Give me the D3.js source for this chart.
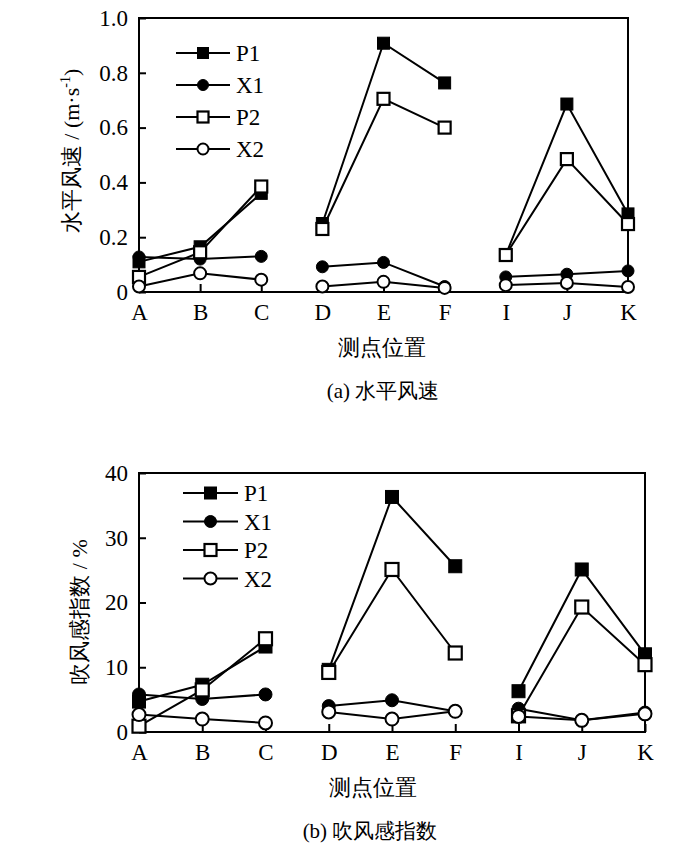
<!DOCTYPE html>
<html><head><meta charset="utf-8">
<script src="https://cdn.jsdelivr.net/npm/d3@7"></script>
</head>
<body style="margin:0;background:#fff">
<svg id="c" width="700" height="852" font-family="Liberation Serif"></svg>
<script>
const categories = ["A","B","C","D","E","F","I","J","K"];
const groups = [[0,1,2],[3,4,5],[6,7,8]];
const seriesNames = ["P1","X1","P2","X2"];
const seriesSymbols = ["square-filled","circle-filled","square-open","circle-open"];

// (a) horizontal wind speed, m/s
const speedP1 = [0.11,0.165,0.36,0.25,0.908,0.763,0.135,0.686,0.285];
const speedX1 = [0.128,0.12,0.13,0.092,0.108,0.02,0.055,0.065,0.077];
const speedP2 = [0.055,0.145,0.385,0.23,0.705,0.60,0.135,0.485,0.248];
const speedX2 = [0.02,0.068,0.045,0.02,0.037,0.015,0.025,0.033,0.018];
const speedTicks = [0,0.2,0.4,0.6,0.8,1.0];
const speedTickLabels = ["0","0.2","0.4","0.6","0.8","1.0"];

// (b) draught index, %
const draftP1 = [4.7,7.3,13.2,9.6,36.3,25.6,6.3,25.1,12.0];
const draftX1 = [5.8,5.1,5.8,4.0,4.9,3.2,3.6,1.8,3.0];
const draftP2 = [0.9,6.5,14.4,9.2,25.1,12.2,2.5,19.3,10.4];
const draftX2 = [2.7,2.0,1.4,3.1,2.0,3.2,2.4,1.8,2.8];
const draftTicks = [0,10,20,30,40];
const draftTickLabels = ["0","10","20","30","40"];

const FONT = "Liberation Serif";
const svg = d3.select("#c");

function drawMarker(g, sym, x, y, s){
  const filled = sym.endsWith("filled");
  if(sym.startsWith("square")){
    g.append("rect").attr("x",x-s/2).attr("y",y-s/2).attr("width",s).attr("height",s)
      .attr("fill",filled?"#000":"#fff").attr("stroke","#000").attr("stroke-width",filled?1:2.2);
  } else {
    g.append("circle").attr("cx",x).attr("cy",y).attr("r",s/2)
      .attr("fill",filled?"#000":"#fff").attr("stroke","#000").attr("stroke-width",filled?1:2);
  }
}

function chart(cfg){
  const x = d3.scalePoint().domain(categories).range([cfg.left,cfg.right]).padding(0);
  const y = d3.scaleLinear().domain(cfg.domain).range([cfg.bottom,cfg.top]);
  const g = svg.append("g");

  g.append("rect").attr("x",cfg.left).attr("y",cfg.top)
    .attr("width",cfg.right-cfg.left).attr("height",cfg.bottom-cfg.top)
    .attr("fill","none").attr("stroke","#000").attr("stroke-width",2);

  const ya = d3.axisLeft(y).tickValues(cfg.ticks).tickSizeInner(-7).tickSizeOuter(0)
    .tickPadding(11).tickFormat((d,i)=>cfg.tickLabels[i]);
  const yg = g.append("g").attr("transform",`translate(${cfg.left},0)`).call(ya);
  yg.attr("font-family",FONT).attr("font-size",null);
  yg.select(".domain").remove();
  yg.selectAll("line").attr("stroke","#000").attr("stroke-width",2);
  yg.selectAll("text").attr("font-size",23).attr("fill","#000");

  const xa = d3.axisBottom(x).tickSizeInner(-8).tickSizeOuter(0).tickPadding(12);
  const xg = g.append("g").attr("transform",`translate(0,${cfg.bottom})`).call(xa);
  xg.attr("font-family",FONT).attr("font-size",null);
  xg.select(".domain").remove();
  xg.selectAll("line").attr("stroke","#000").attr("stroke-width",2);
  xg.selectAll("text").attr("font-size",23).attr("fill","#000");

  g.append("text").attr("x",cfg.xtitleX).attr("y",cfg.bottom+63)
    .attr("text-anchor","middle").attr("font-size",22).text("测点位置");
  g.append("text")
    .attr("transform",`translate(${cfg.ytitleX},${cfg.ytitleY}) rotate(-90)`)
    .attr("text-anchor","middle").attr("font-size",22).html(cfg.ytitle);
  g.append("text").attr("x",cfg.captionX).attr("y",cfg.bottom+106)
    .attr("text-anchor","middle").attr("font-size",21).text(cfg.caption);

  const line = d3.line().x(d=>x(categories[d.i])).y(d=>y(d.v));
  cfg.series.forEach((vals,si)=>{
    groups.forEach(gr=>{
      g.append("path").datum(gr.map(i=>({i,v:vals[i]})))
        .attr("d",line).attr("fill","none").attr("stroke","#000").attr("stroke-width",2);
    });
  });
  cfg.series.forEach((vals,si)=>{
    vals.forEach((v,i)=>drawMarker(g,seriesSymbols[si],x(categories[i]),y(v),cfg.ms));
  });

  seriesNames.forEach((n,si)=>{
    const ly = cfg.legY + si*cfg.legStep;
    g.append("line").attr("x1",cfg.legX).attr("x2",cfg.legX+cfg.legLen).attr("y1",ly).attr("y2",ly)
      .attr("stroke","#000").attr("stroke-width",2);
    drawMarker(g,seriesSymbols[si],cfg.legX+cfg.legLen/2,ly,cfg.lms);
    g.append("text").attr("x",cfg.legX+cfg.legLen+6).attr("y",ly+8)
      .attr("font-size",23).text(n);
  });
}

chart({
  left:139,right:628,top:18,bottom:292,domain:[0,1],
  ticks:speedTicks,tickLabels:speedTickLabels,
  series:[speedP1,speedX1,speedP2,speedX2],
  ytitle:'水平风速 / (m·s<tspan dy="-9" font-size="14">-1</tspan><tspan dy="9">)</tspan>',
  ytitleX:79, ytitleY:151, xtitleX:382, caption:"(a)  水平风速", captionX:383,
  ms:12, lms:11, legX:176, legLen:54, legY:53, legStep:32
});

chart({
  left:139,right:645,top:473,bottom:732,domain:[0,40],
  ticks:draftTicks,tickLabels:draftTickLabels,
  series:[draftP1,draftX1,draftP2,draftX2],
  ytitle:'吹风感指数 / %',
  ytitleX:87, ytitleY:612, xtitleX:373, caption:"(b)  吹风感指数", captionX:370,
  ms:13, lms:12, legX:183, legLen:55, legY:493, legStep:28.5
});

svg.selectAll("text").attr("font-family",FONT);
</script>
</body></html>
